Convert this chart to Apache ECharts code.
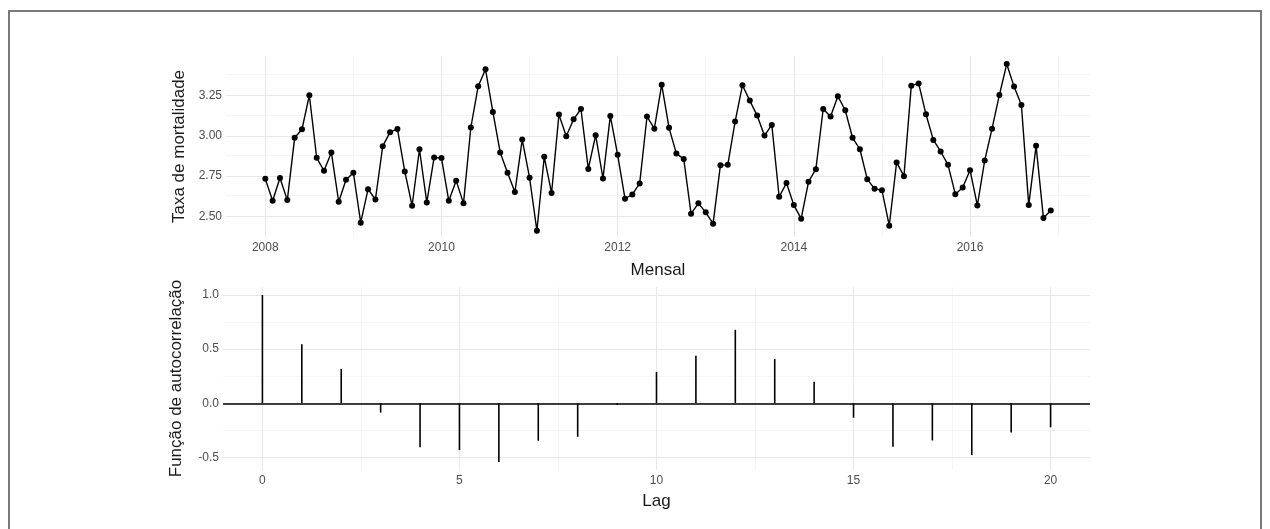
<!DOCTYPE html>
<html>
<head>
<meta charset="utf-8">
<script src="https://cdn.jsdelivr.net/npm/echarts@6/dist/echarts.min.js"></script>
<style>
html,body{margin:0;padding:0;background:#fff;}
#wrap{position:relative;width:1270px;height:529px;overflow:hidden;}
#chart{position:absolute;left:0;top:0;width:1270px;height:529px;}
#frame{position:absolute;left:8px;top:10px;width:1254px;height:540px;border:2px solid #7a7a7a;box-sizing:border-box;pointer-events:none;}
</style>
</head>
<body>
<div id="wrap"><div id="chart"></div><div id="frame"></div></div>
<script>
// ---- data ----
const startYear = 2008;
const mortalidade = [
  2.733,2.597,2.738,2.601,2.988,3.041,3.252,2.864,2.783,2.897,2.591,2.727,
  2.771,2.461,2.669,2.605,2.936,3.023,3.043,2.779,2.566,2.917,2.587,2.866,
  2.862,2.597,2.722,2.581,3.052,3.308,3.413,3.149,2.897,2.771,2.651,2.977,
  2.740,2.411,2.870,2.645,3.132,2.998,3.103,3.167,2.795,3.004,2.736,3.124,
  2.882,2.610,2.636,2.705,3.120,3.045,3.318,3.050,2.890,2.857,2.517,2.581,
  2.525,2.455,2.818,2.820,3.089,3.314,3.219,3.126,3.002,3.068,2.622,2.707,
  2.570,2.486,2.715,2.793,3.167,3.120,3.246,3.159,2.988,2.917,2.731,2.671,
  2.663,2.442,2.835,2.750,3.312,3.326,3.134,2.975,2.903,2.820,2.638,2.680,
  2.787,2.568,2.847,3.045,3.254,3.446,3.306,3.192,2.570,2.938,2.490,2.537
];
const lags = [0,1,2,3,4,5,6,7,8,9,10,11,12,13,14,15,16,17,18,19,20];
const acf = [1.0,0.546,0.318,-0.086,-0.407,-0.432,-0.543,-0.346,-0.309,-0.015,
  0.290,0.438,0.679,0.410,0.198,-0.133,-0.401,-0.343,-0.478,-0.269,-0.222];

const yearTicks = [2008,2010,2012,2014,2016];
const yearMinor = [2009,2011,2013,2015,2017];
const rateTicks = [2.50,2.75,3.00,3.25];
const rateMinor = [2.625,2.875,3.125,3.375];
const lagTicks = [0,5,10,15,20];
const lagMinor = [2.5,7.5,12.5,17.5];
const acfTicks = [-0.5,0.0,0.5,1.0];
const acfMinor = [-0.25,0.25,0.75];

// ---- build ----
const majorStyle = {color:'#e8e8e8', width:1.1, type:'solid'};
const minorStyle = {color:'#f2f2f2', width:0.8, type:'solid'};
function gridLines(xs, ys, style){
  return [].concat(
    xs.map(v => ({xAxis:v, lineStyle:style})),
    ys.map(v => ({yAxis:v, lineStyle:style}))
  );
}
function gridSeries(xi, yi, major, minor){
  return {
    type:'line', xAxisIndex:xi, yAxisIndex:yi, data:[], z:0, silent:true,
    markLine:{z:0, silent:true, symbol:['none','none'], label:{show:false}, animation:false,
      emphasis:{disabled:true},
      data: gridLines(minor[0], minor[1], minorStyle).concat(gridLines(major[0], major[1], majorStyle))}
  };
}
const seriesData = mortalidade.map((v,i) => [startYear + i/12, v]);
const acfData = lags.map((l,i) => [l, acf[i]]);

const font = '"Liberation Sans", Arial, sans-serif';
const tickLabel = {color:'#4d4d4d', fontSize:12, fontFamily:font};
const nameStyle = {color:'#1a1a1a', fontSize:17, fontFamily:font};

const chart = echarts.init(document.getElementById('chart'), null, {renderer:'canvas'});
chart.setOption({
  animation:false,
  backgroundColor:'#ffffff',
  grid:[
    {left:226, right:180, top:56, height:181},
    {left:223, right:180, top:287, height:183}
  ],
  xAxis:[
    {type:'value', gridIndex:0, min:2007.554, max:2017.362,
     name:'Mensal', nameLocation:'middle', nameGap:25, nameTextStyle:nameStyle,
     axisLine:{show:false}, axisTick:{show:false}, splitLine:{show:false},
     axisLabel:Object.assign({margin:5, customValues:yearTicks, formatter:v=>String(Math.round(v))}, tickLabel)},
    {type:'value', gridIndex:1, min:-1, max:21,
     name:'Lag', nameLocation:'middle', nameGap:23, nameTextStyle:nameStyle,
     axisLine:{show:false}, axisTick:{show:false}, splitLine:{show:false},
     axisLabel:Object.assign({margin:5, customValues:lagTicks, formatter:v=>String(Math.round(v))}, tickLabel)}
  ],
  yAxis:[
    {type:'value', gridIndex:0, min:2.372, max:3.496,
     name:'Taxa de mortalidade', nameLocation:'middle', nameGap:38, nameTextStyle:nameStyle,
     axisLine:{show:false}, axisTick:{show:false}, splitLine:{show:false},
     axisLabel:Object.assign({margin:4, customValues:rateTicks, formatter:v=>v.toFixed(2)}, tickLabel)},
    {type:'value', gridIndex:1, min:-0.616, max:1.074,
     name:'Função de autocorrelação', nameLocation:'middle', nameGap:38, nameTextStyle:nameStyle,
     axisLine:{show:false}, axisTick:{show:false}, splitLine:{show:false},
     axisLabel:Object.assign({margin:4, customValues:acfTicks, formatter:v=>v.toFixed(1)}, tickLabel)}
  ],
  series:[
    gridSeries(0,0,[yearTicks,rateTicks],[yearMinor,rateMinor]),
    gridSeries(1,1,[lagTicks,acfTicks],[lagMinor,acfMinor]),
    {type:'line', xAxisIndex:0, yAxisIndex:0, data:seriesData, z:3,
     symbol:'circle', symbolSize:6, showSymbol:true,
     itemStyle:{color:'#000'}, lineStyle:{color:'#000', width:1.4}},
    {type:'bar', xAxisIndex:1, yAxisIndex:1, data:acfData, z:3, barWidth:1.6,
     itemStyle:{color:'#000'},
     markLine:{z:4, silent:true, symbol:['none','none'], label:{show:false},
       lineStyle:{color:'#000', width:1.5, type:'solid'}, data:[{yAxis:0}]}}
  ]
});
</script>
</body>
</html>
